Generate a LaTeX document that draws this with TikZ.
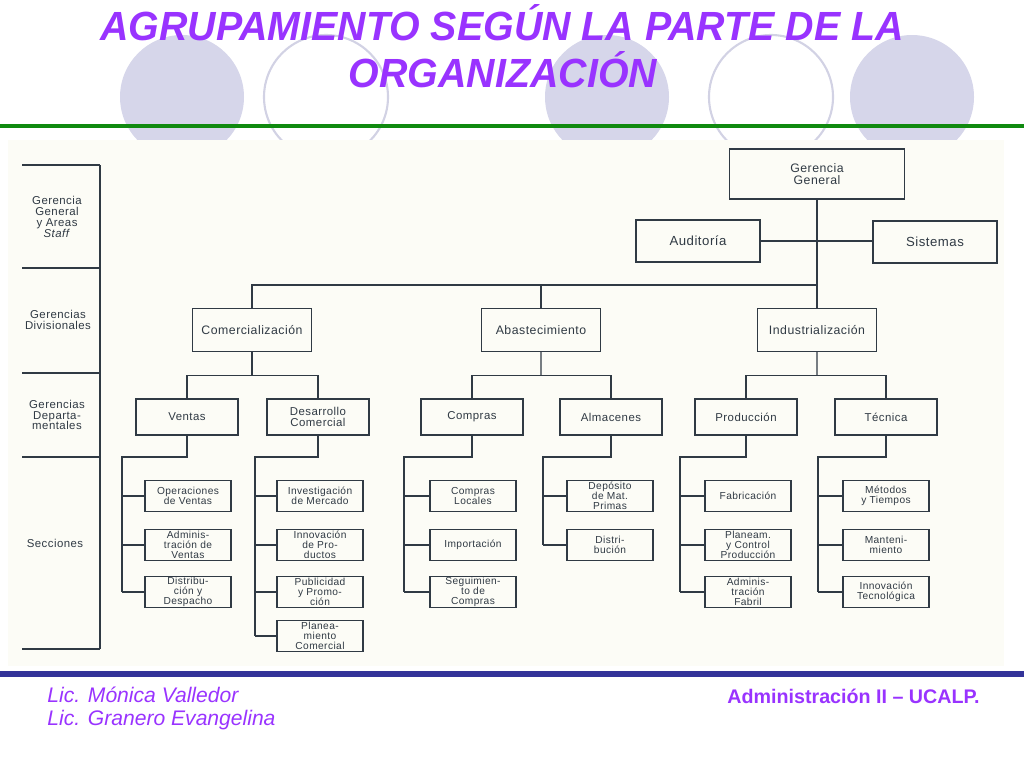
\documentclass[tikz,border=0pt]{standalone}
\usepackage{fontspec}
\setmainfont{Liberation Sans}
\newfontfamily\scanfont{Liberation Sans}[LetterSpace=4]
\newfontfamily\titlefont{Liberation Sans}[FakeStretch=0.965]
\usetikzlibrary{positioning,calc}

\definecolor{titlepurple}{RGB}{153,51,255}
\definecolor{ink}{RGB}{48,58,68}
\definecolor{lavender}{RGB}{214,214,234}
\definecolor{ringgray}{RGB}{210,210,228}
\definecolor{rulegreen}{RGB}{16,138,16}
\definecolor{ruleblue}{RGB}{51,51,153}
\definecolor{scanpaper}{RGB}{252,252,246}

\tikzset{
  box/.style={draw=ink, line width=0.8pt, text=ink, align=center, inner sep=0pt},
  ggbox/.style={box, minimum width=3.5cm, minimum height=1.0cm, font=\scanfont\fontsize{7}{7}\selectfont},
  staffbox/.style={box, minimum width=2.48cm, minimum height=0.84cm, font=\scanfont\fontsize{7.5}{7.5}\selectfont},
  divbox/.style={box, minimum width=2.38cm, minimum height=0.86cm, font=\scanfont\fontsize{7}{7}\selectfont},
  deptbox/.style={box, minimum width=2.04cm, minimum height=0.72cm, font=\scanfont\fontsize{6.5}{6.4}\selectfont},
  secbox/.style={box, minimum width=1.72cm, minimum height=0.62cm, font=\scanfont\fontsize{5.8}{5.6}\selectfont},
  levellabel/.style={text=ink, align=center, inner sep=0pt, font=\scanfont\fontsize{6.5}{6.2}\selectfont},
  wire/.style={draw=ink, line width=0.8pt},
  titletext/.style={text=titlepurple, inner sep=0pt, font=\titlefont\bfseries\itshape\fontsize{23.2}{26}\selectfont},
}

\begin{document}
\begin{tikzpicture}[x=0.02cm,y=-0.02cm]
    \useasboundingbox (0,0) rectangle (1024,768);
    % circles behind the title
    \begin{scope}
        \clip (0,0) rectangle (1024,142);
        \fill[lavender] (182,97) circle [radius=62];
        \draw[ringgray, line width=1.2pt] (326,97) circle [radius=62];
        \fill[lavender] (607,97) circle [radius=62];
        \draw[ringgray, line width=1.2pt] (771,97) circle [radius=62];
        \fill[lavender] (912,97) circle [radius=62];
    \end{scope}
    \fill[rulegreen] (0,124) rectangle (1024,128);
    \fill[ruleblue] (0,671) rectangle (1024,677);
    \node[titletext, anchor=base] (title1) at (502,40) {AGRUPAMIENTO SEGÚN LA PARTE DE LA};
    \node[titletext, anchor=base] (title2) at (503,87) {ORGANIZACIÓN};
    % scanned chart
    \fill[scanpaper] (8,140) rectangle (1004,666);
    % level column
    \draw[wire] (22,165) -- (100,165);
    \draw[wire] (22,268) -- (100,268);
    \draw[wire] (22,373) -- (100,373);
    \draw[wire] (22,457) -- (100,457);
    \draw[wire] (22,649) -- (100,649);
    \draw[wire] (100,165) -- (100,649);
    \node[levellabel] (lbgen) at (57,217) {Gerencia\\General\\y Areas\\\textit{Staff}};
    \node[levellabel] (lbdiv) at (58,320) {Gerencias\\Divisionales};
    \node[levellabel] (lbdep) at (57,415) {Gerencias\\Departa-\\mentales};
    \node[levellabel] (lbsec) at (55,543) {Secciones};
    % top and staff
    \node[ggbox] (gg) at (817,174) {Gerencia\\General};
    \node[staffbox] (aud) at (698,241) {Auditoría};
    \node[staffbox] (sis) at (935,242) {Sistemas};
    % divisions
    \node[divbox] (com) at (252,330) {Comercialización};
    \node[divbox] (abas) at (541,330) {Abastecimiento};
    \node[divbox] (ind) at (817,330) {Industrialización};
    % departments
    \node[deptbox] (ven) at (187,417) {Ventas};
    \node[deptbox] (desc) at (318,417) {Desarrollo\\Comercial};
    \node[deptbox] (comp) at (472,417) {Compras};
    \node[deptbox] (alm) at (611,417) {Almacenes};
    \node[deptbox] (prod) at (746,417) {Producción};
    \node[deptbox] (tec) at (886,417) {Técnica};
    % sections
    \node[secbox] (ven1) at (188,496) {Operaciones\\de Ventas};
    \node[secbox] (ven2) at (188,545) {Adminis-\\tración de\\Ventas};
    \node[secbox] (ven3) at (188,592) {Distribu-\\ción y\\Despacho};
    \node[secbox] (desc1) at (320,496) {Investigación\\de Mercado};
    \node[secbox] (desc2) at (320,545) {Innovación\\de Pro-\\ductos};
    \node[secbox] (desc3) at (320,592) {Publicidad\\y Promo-\\ción};
    \node[secbox] (desc4) at (320,636) {Planea-\\miento\\Comercial};
    \node[secbox] (comp1) at (473,496) {Compras\\Locales};
    \node[secbox] (comp2) at (473,545) {Importación};
    \node[secbox] (comp3) at (473,592) {Seguimien-\\to de\\Compras};
    \node[secbox] (alm1) at (610,496) {Depósito\\de Mat.\\Primas};
    \node[secbox] (alm2) at (610,545) {Distri-\\bución};
    \node[secbox] (prod1) at (748,496) {Fabricación};
    \node[secbox] (prod2) at (748,545) {Planeam.\\y Control\\Producción};
    \node[secbox] (prod3) at (748,592) {Adminis-\\tración\\Fabril};
    \node[secbox] (tec1) at (886,496) {Métodos\\y Tiempos};
    \node[secbox] (tec2) at (886,545) {Manteni-\\miento};
    \node[secbox] (tec3) at (886,592) {Innovación\\Tecnológica};
    % connectors
    \coordinate (mainbus) at (817,285);
    \draw[wire] (gg.south) -- (ind.north);
    \draw[wire] (aud.east) -- (aud.east -| sis.west);
    \draw[wire] (com.north) |- (mainbus);
    \draw[wire] (abas.north) -- (abas.north |- mainbus);
    \foreach \dv/\da/\db in {com/ven/desc, abas/comp/alm, ind/prod/tec} {
        \draw[wire] (\dv.south) -- ($(\dv.south)!0.5!(\dv.south |- \da.north)$) coordinate (\dv-bus);
        \draw[wire] (\da.north) |- (\dv-bus) -| (\db.north);
    }
    \foreach \col/\sx/\n in {ven/122/3, desc/255/4, comp/404/3, alm/543/2, prod/680/3, tec/818/3} {
        \coordinate (\col-sp) at (\sx,457);
        \draw[wire] (\col.south) |- (\col-sp) -- (\col-sp |- \col\n.west);
        \foreach \i in {1,...,\n}
            \draw[wire] (\col-sp |- \col\i.west) -- (\col\i.west);
    }
    % footer
    \node[text=titlepurple, anchor=base west, inner sep=0pt, font=\itshape\fontsize{12}{14}\selectfont] (auth1) at (47,702) {Lic. Mónica Valledor};
    \node[text=titlepurple, anchor=base west, inner sep=0pt, font=\itshape\fontsize{12}{14}\selectfont] (auth2) at (47,725) {Lic. Granero Evangelina};
    \node[text=titlepurple, anchor=base east, inner sep=0pt, font=\bfseries\fontsize{11.2}{13}\selectfont] (course) at (980,703) {Administración II – UCALP.};
\end{tikzpicture}
\end{document}
